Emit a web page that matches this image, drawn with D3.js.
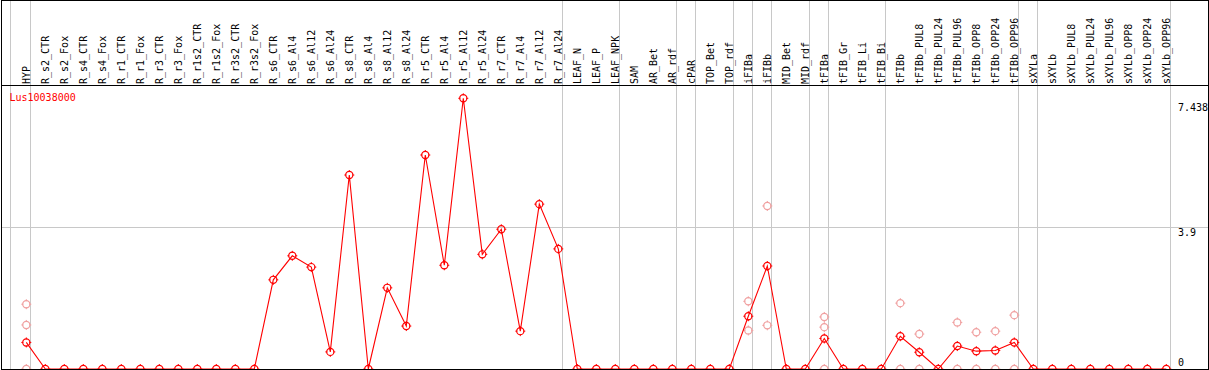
<!DOCTYPE html>
<html>
<head>
<meta charset="utf-8">
<script src="https://cdn.jsdelivr.net/npm/d3@7"></script>
<style>
  body { margin: 0; background: #fff; }
  text { font-family: "DejaVu Sans Mono", monospace; font-size: 10px; }
</style>
</head>
<body>
<div id="chart"></div>
<script>
var geneName = "Lus10038000";

var categories = ["HYP", "R_s2_CTR", "R_s2_Fox", "R_s4_CTR", "R_s4_Fox", "R_r1_CTR", "R_r1_Fox",
  "R_r3_CTR", "R_r3_Fox", "R_r1s2_CTR", "R_r1s2_Fox", "R_r3s2_CTR", "R_r3s2_Fox",
  "R_s6_CTR", "R_s6_Al4", "R_s6_Al12", "R_s6_Al24", "R_s8_CTR", "R_s8_Al4", "R_s8_Al12", "R_s8_Al24",
  "R_r5_CTR", "R_r5_Al4", "R_r5_Al12", "R_r5_Al24", "R_r7_CTR", "R_r7_Al4", "R_r7_Al12", "R_r7_Al24",
  "LEAF_N", "LEAF_P", "LEAF_NPK", "SAM", "AR_Bet", "AR_rdf", "cPAR", "TOP_Bet", "TOP_rdf",
  "iFIBa", "iFIBb", "MID_Bet", "MID_rdf", "tFIBa", "tFIB_Gr", "tFIB_Li", "tFIB_Bi",
  "tFIBb", "tFIBb_PUL8", "tFIBb_PUL24", "tFIBb_PUL96", "tFIBb_OPP8", "tFIBb_OPP24", "tFIBb_OPP96",
  "sXYLa", "sXYLb", "sXYLb_PUL8", "sXYLb_PUL24", "sXYLb_PUL96", "sXYLb_OPP8", "sXYLb_OPP24", "sXYLb_OPP96"];

var expression = [0.73, 0, 0, 0, 0, 0, 0,
  0, 0, 0, 0, 0, 0,
  2.45, 3.11, 2.80, 0.47, 5.33, 0, 2.23, 1.18,
  5.88, 2.85, 7.438, 3.15, 3.84, 1.04, 4.53, 3.30,
  0, 0, 0, 0, 0, 0, 0, 0, 0,
  1.45, 2.83, 0, 0, 0.84, 0, 0, 0,
  0.90, 0.46, 0, 0.63, 0.49, 0.51, 0.73,
  0, 0, 0, 0, 0, 0, 0, 0];

// single replicates, only where they show
var replicateLabels = ["HYP", "iFIBa", "iFIBb", "tFIBa", "tFIBb", "tFIBb_PUL8",
  "tFIBb_PUL96", "tFIBb_OPP8", "tFIBb_OPP24", "tFIBb_OPP96"];
var replicateValues = [[0, 1.21, 1.78], [1.86, 1.06], [4.48, 1.20], [0, 1.15, 1.43], [0, 1.81], [0, 0.96],
  [0, 1.28], [0, 1.01], [0, 1.04], [0, 1.48]];

var separatorsAfter = ["HYP", "R_r7_Al24", "LEAF_NPK", "AR_rdf", "cPAR", "TOP_rdf", "iFIBa", "iFIBb",
  "MID_rdf", "tFIBa", "tFIB_Bi", "tFIBb_OPP96", "sXYLa", "sXYLb_OPP96"];

var yTicks = [0, 3.9, 7.438];
var yTickLabels = ["0", "3.9", "7.438"];

var w = 1209;
var h = 370;
var headerBottom = 85;

var svg = d3.select("#chart").append("svg")
  .attr("width", w)
  .attr("height", h);

var x = d3.scalePoint().domain(categories).range([26.3, 1166.3]);
var y = d3.scaleLinear().domain([0, 7.438]).range([369, 98.3]);

// group separators
var sepX = [x(categories[0]) - 16].concat(separatorsAfter.map(function(c) { return x(c) + 4; }));
svg.selectAll("line.sep")
  .data(sepX)
  .enter()
  .append("line")
  .attr("class", "sep")
  .attr("x1", function(d) { return Math.round(d) + 0.5; })
  .attr("x2", function(d) { return Math.round(d) + 0.5; })
  .attr("y1", 0)
  .attr("y2", 369)
  .attr("stroke", "#c8c8c8")
  .attr("stroke-width", 1);

// horizontal grid (middle tick only)
svg.append("line")
  .attr("x1", 1).attr("x2", w)
  .attr("y1", Math.round(y(3.9)) + 0.5)
  .attr("y2", Math.round(y(3.9)) + 0.5)
  .attr("stroke", "#c8c8c8");

// column labels
svg.selectAll("text.cat")
  .data(categories)
  .enter()
  .append("text")
  .attr("class", "cat")
  .attr("transform", function(d) { return "translate(" + (x(d) + 3.5) + ",84) rotate(-90)"; })
  .attr("text-anchor", "start")
  .attr("fill", "#000")
  .text(function(d) { return d; });

// right axis labels
var tickDy = [-3, 8.5, 12.4];
svg.selectAll("text.tick")
  .data(yTicks)
  .enter()
  .append("text")
  .attr("class", "tick")
  .attr("x", 1178)
  .attr("y", function(d, i) { return y(d) + tickDy[i]; })
  .attr("fill", "#000")
  .text(function(d, i) { return yTickLabels[i]; });

function marker(sel, color) {
  sel.append("circle")
    .attr("r", 3.6)
    .attr("fill", "none")
    .attr("stroke", color)
    .attr("stroke-width", 1.2);
  sel.append("path")
    .attr("d", "M0,-5V-3M0,3V5M-5,0H-3M3,0H5")
    .attr("stroke", color)
    .attr("stroke-width", 1);
}

// replicates
var reps = [];
replicateLabels.forEach(function(c, i) {
  replicateValues[i].forEach(function(v) { reps.push({c: c, v: v}); });
});
svg.selectAll("g.rep")
  .data(reps)
  .enter()
  .append("g")
  .attr("class", "rep")
  .attr("transform", function(d) { return "translate(" + x(d.c) + "," + y(d.v) + ")"; })
  .call(marker, "#f0a0a0");

// main line
var pts = categories.map(function(c, i) { return {c: c, v: expression[i]}; });
svg.append("path")
  .datum(pts)
  .attr("fill", "none")
  .attr("stroke", "#ff0000")
  .attr("stroke-width", 1.1)
  .attr("d", d3.line()
    .x(function(d) { return x(d.c); })
    .y(function(d) { return y(d.v); }));

svg.selectAll("g.pt")
  .data(pts)
  .enter()
  .append("g")
  .attr("class", "pt")
  .attr("transform", function(d) { return "translate(" + x(d.c) + "," + y(d.v) + ")"; })
  .call(marker, "#ff0000");

// title
svg.append("text")
  .attr("x", 9.5)
  .attr("y", 100.5)
  .attr("fill", "#ff0000")
  .text(geneName);

// frame
svg.append("rect")
  .attr("x", 1.5).attr("y", 0.5)
  .attr("width", 1207).attr("height", 369)
  .attr("fill", "none")
  .attr("stroke", "#000");
svg.append("line")
  .attr("x1", 1).attr("x2", w)
  .attr("y1", headerBottom + 0.5).attr("y2", headerBottom + 0.5)
  .attr("stroke", "#000");
</script>
</body>
</html>
